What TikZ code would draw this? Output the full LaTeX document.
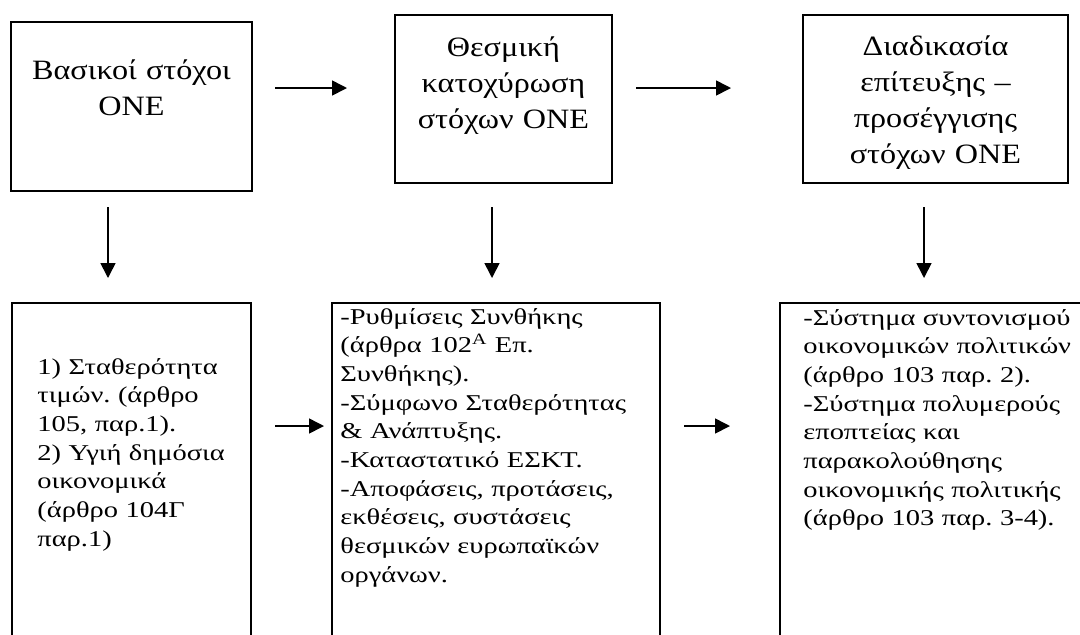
\documentclass[tikz,border=0pt]{standalone}
\usepackage{fontspec}
\setmainfont{Liberation Serif}
\newfontfamily\headfont[FakeStretch=1.15]{Liberation Serif}
\newfontfamily\bodyfont[FakeStretch=1.26]{Liberation Serif}
\usetikzlibrary{arrows.meta}

\begin{document}
\frenchspacing
\begin{tikzpicture}[
    x=0.5pt,y=-0.5pt,
    box/.style={draw,line width=0.8pt,inner sep=0pt},
    head/.style={anchor=base,inner sep=0pt,text width=130pt,align=center,
        font=\headfont\fontsize{14}{18}\selectfont},
    body/.style={anchor=base west,inner sep=0pt,text width=170pt,align=left,
        font=\bodyfont\fontsize{11.3}{14.35}\selectfont},
    flow/.style={line width=0.8pt,-{Triangle[length=7.5pt,width=7.5pt]}},
]
    \useasboundingbox (0,0) rectangle (1080,634);
    \clip (0,0) rectangle (1080,634);

    \node[box,minimum width=120.5pt,minimum height=84.5pt] (goals) at (131.5,106.5) {};
    \node[box,minimum width=108.5pt,minimum height=84pt] (inst) at (503.5,99) {};
    \node[box,minimum width=132.5pt,minimum height=84pt] (proc) at (935.5,99) {};
    \node[head] (goals-txt) at (131.5,79) {Βασικοί στόχοι\\ΟΝΕ};
    \node[head] (inst-txt) at (503.5,56) {Θεσμική\\κατοχύρωση\\στόχων ΟΝΕ};
    \node[head] (proc-txt) at (935.5,55) {Διαδικασία\\επίτευξης –\\προσέγγισης\\στόχων ΟΝΕ};

    \node[box,minimum width=119.5pt,minimum height=198.5pt] (goals-list) at (131.5,501.5) {};
    \node[box,minimum width=164pt,minimum height=198.5pt] (inst-list) at (496,501.5) {};
    \node[box,minimum width=160pt,minimum height=198.5pt] (proc-list) at (940,501.5) {};
    \node[body] (goals-list-txt) at (37,374) {1) Σταθερότητα\\τιμών. (άρθρο\\105, παρ.1).\\2) Υγιή δημόσια\\οικονομικά\\(άρθρο 104Γ\\παρ.1)};
    \node[body] (inst-list-txt) at (340,324) {-Ρυθμίσεις Συνθήκης\\(άρθρα 102\textsuperscript{A} Επ.\\Συνθήκης).\\-Σύμφωνο Σταθερότητας\\\& Ανάπτυξης.\\-Καταστατικό ΕΣΚΤ.\\-Αποφάσεις, προτάσεις,\\εκθέσεις, συστάσεις\\θεσμικών ευρωπαϊκών\\οργάνων.};
    \node[body] (proc-list-txt) at (803,325) {-Σύστημα συντονισμού\\οικονομικών πολιτικών\\(άρθρο 103 παρ. 2).\\-Σύστημα πολυμερούς\\εποπτείας και\\παρακολούθησης\\οικονομικής πολιτικής\\(άρθρο 103 παρ. 3-4).};

    \coordinate (h1a) at (275,88);
    \coordinate (h1b) at (347,88);
    \coordinate (h2a) at (636,88);
    \coordinate (h2b) at (731,88);
    \coordinate (v1a) at (108,207);
    \coordinate (v1b) at (108,278);
    \coordinate (v2a) at (492,207);
    \coordinate (v2b) at (492,278);
    \coordinate (v3a) at (924,207);
    \coordinate (v3b) at (924,278);
    \coordinate (h3a) at (275,426);
    \coordinate (h3b) at (324,426);
    \coordinate (h4a) at (684,426);
    \coordinate (h4b) at (730,426);

    \draw[flow] (h1a) -- (h1b);
    \draw[flow] (h2a) -- (h2b);
    \draw[flow] (v1a) -- (v1b);
    \draw[flow] (v2a) -- (v2b);
    \draw[flow] (v3a) -- (v3b);
    \draw[flow] (h3a) -- (h3b);
    \draw[flow] (h4a) -- (h4b);
\end{tikzpicture}
\end{document}
